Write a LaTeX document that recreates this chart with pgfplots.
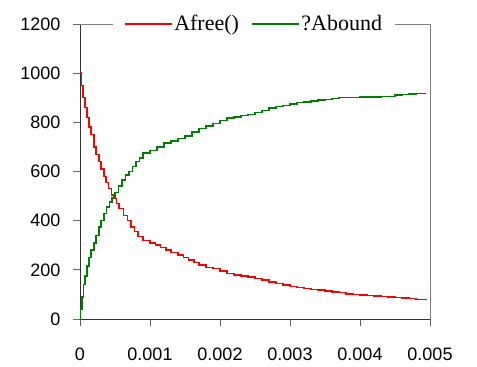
\documentclass[border=0pt]{standalone}
\usepackage{pgfplots}
\pgfplotsset{compat=1.18}
\usepackage{fontspec}
\setmainfont{Liberation Serif}
\setsansfont{Liberation Sans}

\pgfplotstableread{
x        y
0        1000
0.00002  950
0.00004  900
0.00007  860
0.0001   820
0.00013  780
0.00016  750
0.0002   700
0.00023  670
0.00027  640
0.0003   610
0.00034  580
0.00037  555
0.00041  530
0.00045  505
0.00048  490
0.00052  470
0.00056  450
0.00062  420
0.00068  400
0.00073  375
0.00078  355
0.00083  335
0.0009   320
0.001    310
0.00108  300
0.00115  290
0.00123  280
0.0013   270
0.0014   260
0.00148  250
0.00155  240
0.00163  230
0.0017   220
0.0018   210
0.0019   205
0.002    195
0.0021   185
0.0022   178
0.0023   175
0.0024   170
0.0025   165
0.0026   158
0.0027   150
0.0028   145
0.0029   138
0.003    132
0.0031   128
0.0032   124
0.0033   120
0.0034   117
0.0035   113
0.0036   110
0.0037   107
0.0038   102
0.0039   100
0.004    98
0.0041   95
0.0042   93
0.0043   92
0.0044   90
0.0045   88
0.0046   86
0.0047   84
0.0048   80
0.00495  78
}\afree

\pgfplotstableread{
x        y
0        0
0.00001  40
0.00003  90
0.00005  140
0.00007  175
0.0001   215
0.00013  250
0.00016  280
0.0002   310
0.00023  340
0.00027  375
0.0003   400
0.00034  430
0.00038  455
0.00042  475
0.00046  495
0.0005   515
0.00055  540
0.0006   565
0.00065  585
0.0007   600
0.00075  620
0.0008   640
0.00085  655
0.0009   675
0.001    685
0.0011   700
0.0012   715
0.0013   725
0.0014   735
0.0015   745
0.0016   760
0.0017   775
0.0018   785
0.0019   795
0.002    808
0.0021   818
0.0022   822
0.0023   828
0.0024   832
0.0025   840
0.0026   848
0.0027   858
0.0028   865
0.0029   868
0.003    875
0.0031   880
0.0032   882
0.0033   887
0.0034   890
0.0035   893
0.0036   897
0.0037   900
0.0038   900
0.0039   902
0.004    903
0.0041   904
0.0042   904
0.0043   905
0.0044   905
0.0045   912
0.0046   913
0.0047   916
0.0048   917
0.00495  917
}\abound

\definecolor{cred}{RGB}{255,0,0}
\definecolor{cgreen}{RGB}{0,128,0}

\begin{document}
\begin{tikzpicture}
\begin{axis}[
  scale only axis,
  width=350pt, height=295pt,
  xmin=0, xmax=0.005, ymin=0, ymax=1200,
  axis x line*=bottom, axis y line*=left,
  axis line style={draw=black!80, line width=0.8pt},
  xtick={0,0.001,0.002,0.003,0.004,0.005},
  ytick={0,200,400,600,800,1000,1200},
  tick align=outside,
  major tick length=7pt,
  tick style={draw=black!60, line width=0.8pt},
  scaled x ticks=false,
  /pgf/number format/1000 sep={},
  xticklabel style={/pgf/number format/fixed, /pgf/number format/precision=3, yshift=-18pt},
  yticklabel style={xshift=-9pt},
  /pgf/number format/assume math mode=true,
  tick label style={font=\sffamily\fontsize{18}{20}\selectfont},
  legend style={at={(0.497,1)}, anchor=center, legend columns=2, draw=none, fill=white,
    font=\fontsize{22}{23}\selectfont, inner xsep=11pt, inner ysep=1pt,
    /tikz/every even column/.append style={column sep=10pt}},
  legend image code/.code={\draw[#1] (0pt,0pt) -- (47pt,0pt);},
  clip=false,
]
\draw[black!50, line width=0.8pt] (rel axis cs:0,1) -- (rel axis cs:1,1) -- (rel axis cs:1,0);
\addplot[const plot, cred, line width=1.5pt] table[x=x,y=y] {\afree};
\addlegendentry{Afree()}
\addplot[const plot, cgreen, line width=1.5pt] table[x=x,y=y] {\abound};
\addlegendentry{?Abound}
\coordinate (O) at (rel axis cs:0,0);
\coordinate (TR) at (rel axis cs:1,1);
\end{axis}
\path ([xshift=-80pt,yshift=-48pt]O) rectangle ([xshift=47pt,yshift=24pt]TR);
\end{tikzpicture}
\end{document}
